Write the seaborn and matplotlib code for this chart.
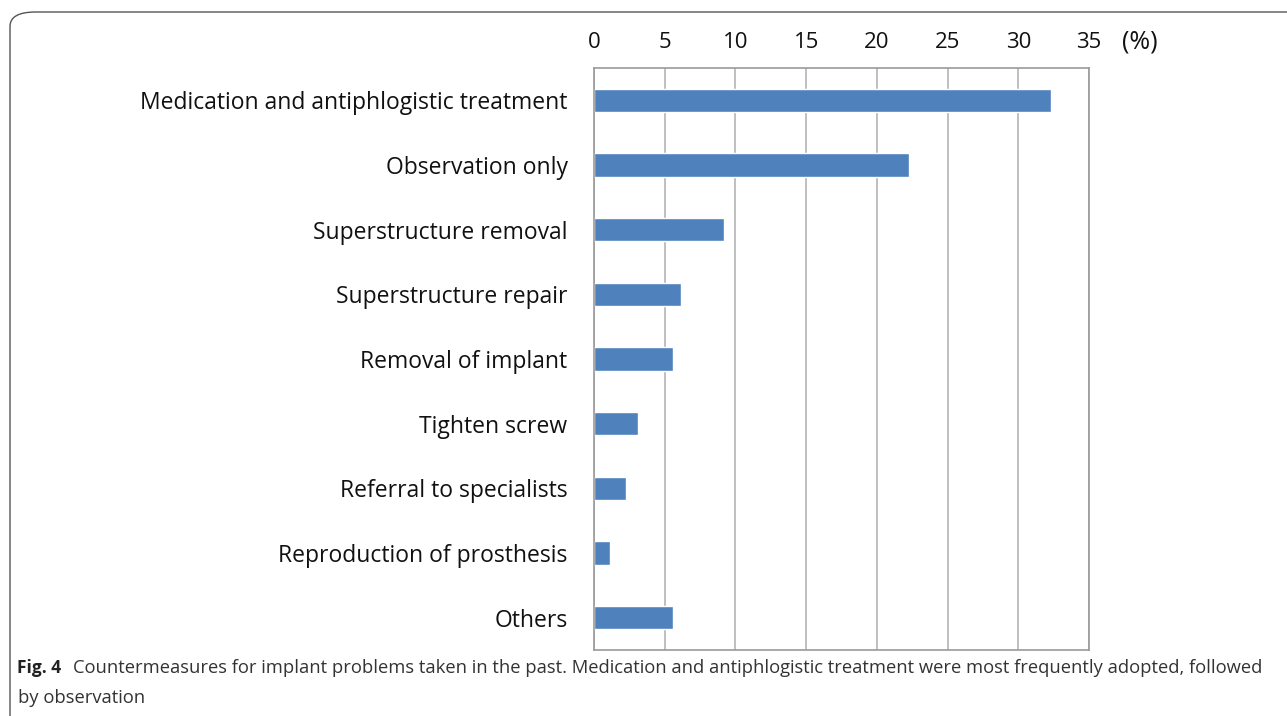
import matplotlib
matplotlib.use("Agg")
import matplotlib.pyplot as plt
from matplotlib.patches import FancyBboxPatch
import pandas as pd
import seaborn as sns

categories = [
    "Medication and antiphlogistic treatment",
    "Observation only",
    "Superstructure removal",
    "Superstructure repair",
    "Removal of implant",
    "Tighten screw",
    "Referral to specialists",
    "Reproduction of prosthesis",
    "Others",
]
percent = [32.3, 22.3, 9.2, 6.15, 5.6, 3.1, 2.25, 1.15, 5.6]
x_ticks = [0, 5, 10, 15, 20, 25, 30, 35]

BAR_COLOR = "#4F81BD"
GRID_COLOR = "#B4B4B4"

sns.set_theme(style="white")
plt.rcParams["font.family"] = ["Open Sans", "DejaVu Sans"]

df = pd.DataFrame({"category": categories, "percent": percent})

fig = plt.figure(figsize=(12.87, 7.16), dpi=100)

# rounded frame around the figure (clipped on the right/bottom)
frame = FancyBboxPatch((10 / 1287, -0.05), 1.2, (716 - 12) / 716 + 0.05,
                       boxstyle="round,pad=0,rounding_size=0.02",
                       transform=fig.transFigure, fill=False,
                       edgecolor="#555555", linewidth=1.0)
fig.patches.append(frame)

ax = fig.add_axes([594 / 1287, 1 - 650 / 716, 495 / 1287, 582 / 716])
sns.barplot(data=df, y="category", x="percent", orient="h",
            color=BAR_COLOR, width=0.36, saturation=1, ax=ax)

ax.set_xlim(0, 35)
ax.set_xticks(x_ticks)
ax.xaxis.tick_top()
ax.tick_params(axis="x", length=0, pad=11, labelsize=16, colors="#111111")
ax.tick_params(axis="y", length=0, pad=19, labelsize=16.5, colors="#111111")
ax.set_xlabel("")
ax.set_ylabel("")
ax.grid(axis="x", color=GRID_COLOR, linewidth=1.2)
ax.set_axisbelow(True)
for side, sp in ax.spines.items():
    sp.set_visible(True)
    sp.set_color("#9A9A9A")
    sp.set_linewidth(1.2)

fig.text(1140 / 1287, 1 - 42 / 716, "(%)", fontsize=18, ha="center",
         va="center", color="#111111")

# caption
cap_y1 = 1 - 668 / 716
cap_y2 = 1 - 698 / 716
fig.text(17 / 1287, cap_y1, "Fig. 4", fontsize=12.5,
         fontweight="bold", va="center", ha="left", color="#222222")
fig.text(73 / 1287, cap_y1,
         "Countermeasures for implant problems taken in the past. Medication "
         "and antiphlogistic treatment were most frequently adopted, followed",
         fontsize=13.2, va="center", ha="left", color="#333333")
fig.text(18 / 1287, cap_y2, "by observation", fontsize=13.2, va="center",
         ha="left", color="#333333")

fig.savefig("out.png", dpi=100)
